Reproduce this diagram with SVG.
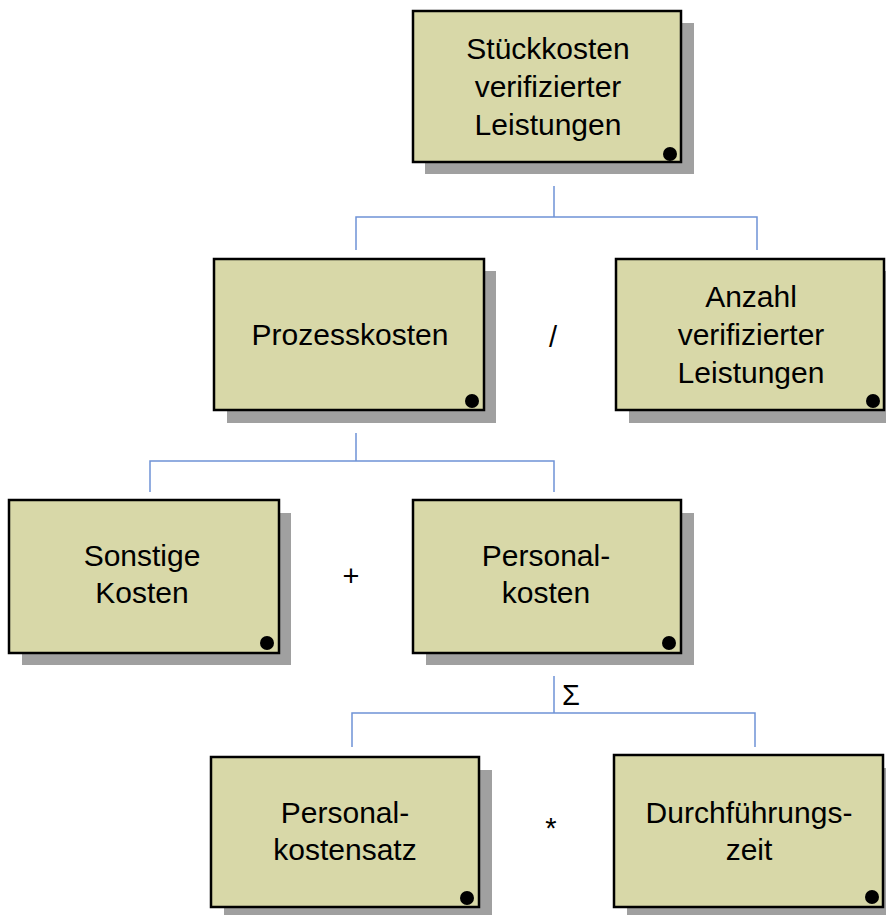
<svg xmlns="http://www.w3.org/2000/svg" width="886" height="915" viewBox="0 0 886 915">
<style>
.sh{fill:#a0a0a0}
.bx{fill:#d8d8a8;stroke:#000;stroke-width:2.5}
.dot{fill:#000}
text{font-family:"Liberation Sans",Arial,sans-serif;font-size:30px;fill:#000;text-anchor:middle}
.op{font-size:29px}
.cn{fill:none;stroke:#6f93d6;stroke-width:1.5}
</style>
<rect width="886" height="915" fill="#fff"/>
<g id="connectors">
<path class="cn" d="M554,186V217M356,250V217H757V250"/>
<path class="cn" d="M356,433V461M150,492V461H554V492"/>
<path class="cn" d="M554,676V713M352,747V713H755V747"/>
<text x="571" y="705" class="op">Σ</text>
<text x="553" y="347" class="op">/</text>
<text x="351" y="586" class="op">+</text>
<text x="551" y="838" class="op">*</text>
</g>
<g id="n1">
<rect class="sh" x="425" y="23" width="269" height="151"/>
<rect class="bx" x="413" y="11" width="268" height="151"/>
<circle class="dot" cx="670" cy="154" r="7"/>
<text x="548" y="59">Stückkosten</text>
<text x="548" y="97">verifizierter</text>
<text x="548" y="135">Leistungen</text>
</g>
<g id="n2">
<rect class="sh" x="227" y="271" width="269" height="152"/>
<rect class="bx" x="214" y="259" width="270" height="151"/>
<circle class="dot" cx="472" cy="401" r="7"/>
<text x="350" y="345">Prozesskosten</text>
</g>
<g id="n3">
<rect class="sh" x="629" y="271" width="269" height="152"/>
<rect class="bx" x="616" y="259" width="268" height="151"/>
<circle class="dot" cx="873" cy="401" r="7"/>
<text x="751" y="307">Anzahl</text>
<text x="751" y="345">verifizierter</text>
<text x="751" y="383">Leistungen</text>
</g>
<g id="n4">
<rect class="sh" x="22" y="513" width="269" height="152"/>
<rect class="bx" x="9" y="500" width="270" height="153"/>
<circle class="dot" cx="267" cy="643" r="7"/>
<text x="142" y="566">Sonstige</text>
<text x="142" y="603">Kosten</text>
</g>
<g id="n5">
<rect class="sh" x="426" y="513" width="268" height="152"/>
<rect class="bx" x="413" y="500" width="268" height="153"/>
<circle class="dot" cx="669" cy="643" r="7"/>
<text x="546" y="566">Personal-</text>
<text x="546" y="603">kosten</text>
</g>
<g id="n6">
<rect class="sh" x="224" y="770" width="268" height="150"/>
<rect class="bx" x="211" y="757" width="268" height="150"/>
<circle class="dot" cx="467" cy="898" r="7"/>
<text x="345" y="823">Personal-</text>
<text x="345" y="860">kostensatz</text>
</g>
<g id="n7">
<rect class="sh" x="627" y="768" width="269" height="150"/>
<rect class="bx" x="614" y="755" width="269" height="152"/>
<circle class="dot" cx="872" cy="897" r="7"/>
<text x="749" y="823">Durchführungs-</text>
<text x="749" y="860">zeit</text>
</g>
</svg>
